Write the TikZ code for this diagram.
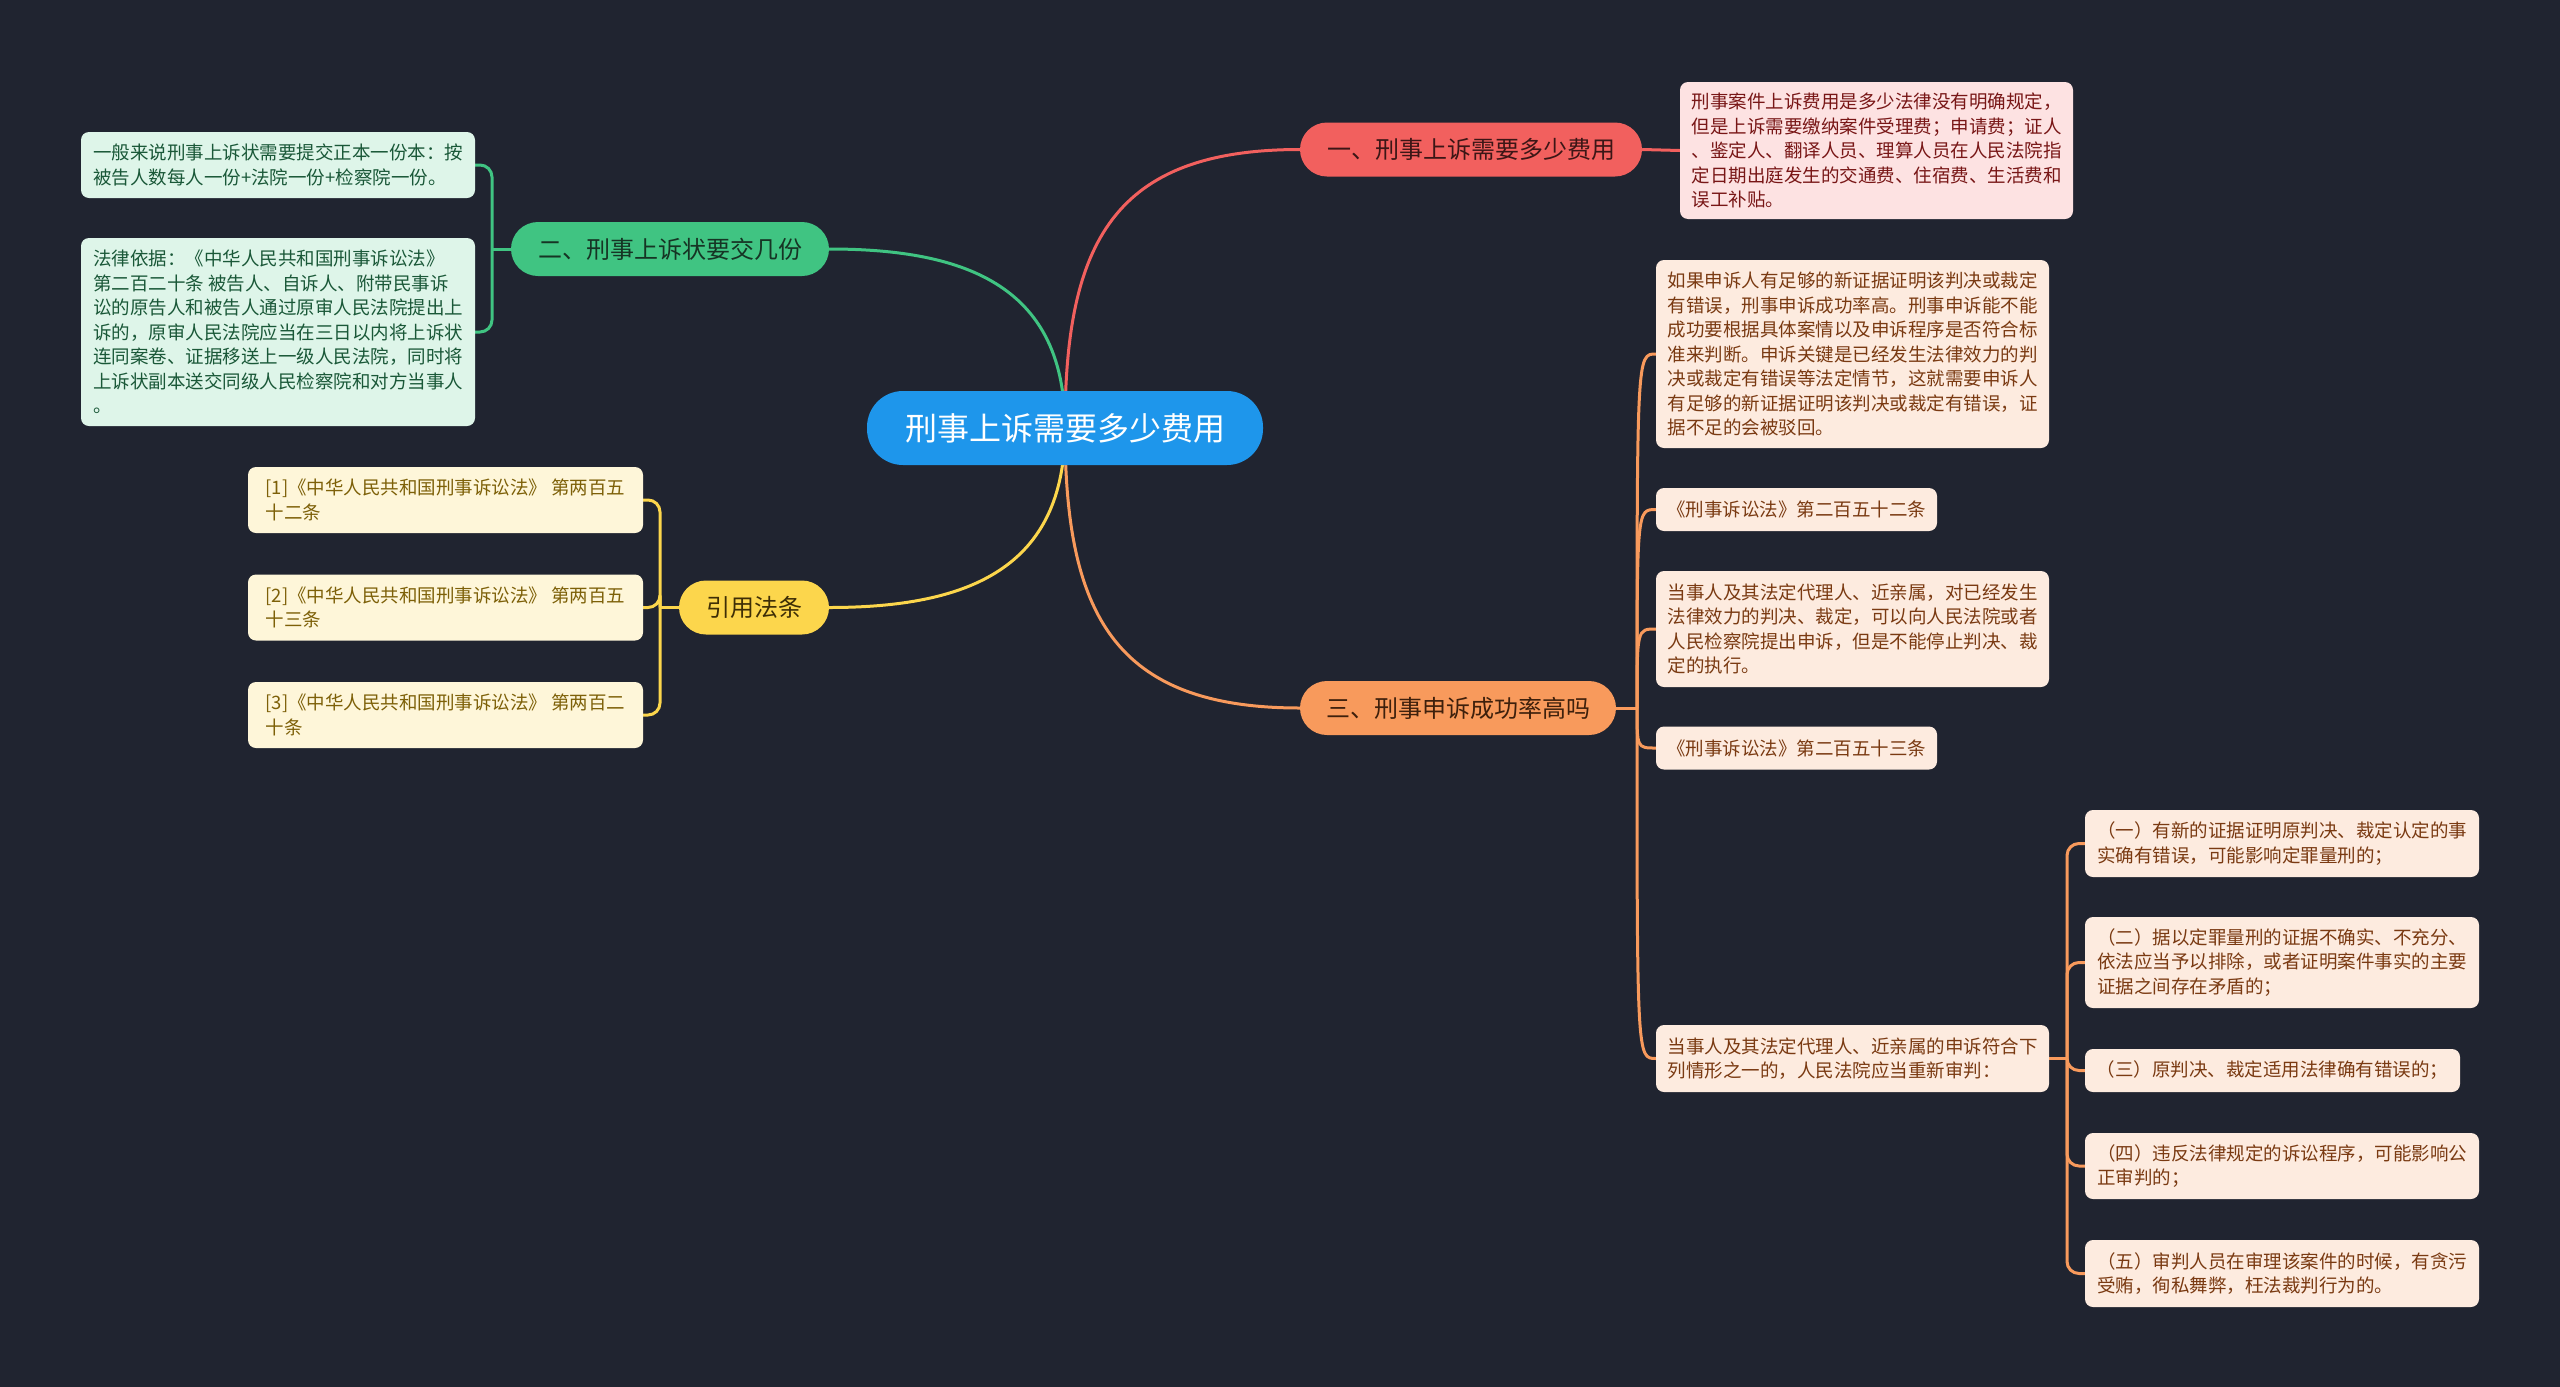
\documentclass[tikz,border=0pt]{standalone}
\usepackage{fontspec}
\setmainfont{Noto Sans CJK SC}
\pgfdeclarelayer{back}
\pgfdeclarelayer{links}
\pgfsetlayers{back,links,main}
\definecolor{bgc}{RGB}{32,36,48}
\definecolor{rootc}{RGB}{30,150,235}
\definecolor{redc}{RGB}{242,96,94}
\definecolor{redleaf}{RGB}{253,226,226}
\definecolor{redtxt}{RGB}{120,22,22}
\definecolor{redbt}{RGB}{60,22,22}
\definecolor{greenc}{RGB}{64,196,130}
\definecolor{greenleaf}{RGB}{222,245,233}
\definecolor{greentxt}{RGB}{26,88,56}
\definecolor{greenbt}{RGB}{22,52,36}
\definecolor{yellowc}{RGB}{252,214,76}
\definecolor{yellowleaf}{RGB}{254,246,217}
\definecolor{yellowtxt}{RGB}{125,96,8}
\definecolor{yellowbt}{RGB}{62,46,6}
\definecolor{orangec}{RGB}{248,154,92}
\definecolor{orangeleaf}{RGB}{253,235,223}
\definecolor{orangetxt}{RGB}{122,58,18}
\definecolor{orangebt}{RGB}{62,32,12}
\begin{document}
\begin{tikzpicture}[x=1pt,y=-1pt,
    rootbox/.style={fill=rootc, text=white, rounded corners=36pt, minimum width=396pt, minimum height=74pt, font=\fontsize{32}{38}\selectfont},
    branchbox/.style={rounded corners=27pt, minimum height=54pt, font=\fontsize{24}{29}\selectfont},
    leafbox/.style={rounded corners=8pt, align=left, inner xsep=10pt, inner ysep=8pt, font=\fontsize{18.5}{24.5}\selectfont},
    link/.style={line width=3pt}]
  \node[rootbox] (R) at (1065,428) {刑事上诉需要多少费用};
  % branch one
  \node[branchbox, fill=redc, text=redbt, minimum width=342pt] (B1) at (1471,149.5) {一、刑事上诉需要多少费用};
  \node[leafbox, fill=redleaf, text=redtxt, minimum width=393pt, minimum height=137pt] (N1) at (1876.5,150.5)
    {刑事案件上诉费用是多少法律没有明确规定，\\但是上诉需要缴纳案件受理费；申请费；证人\\、鉴定人、翻译人员、理算人员在人民法院指\\定日期出庭发生的交通费、住宿费、生活费和\\误工补贴。};
  % branch two
  \node[branchbox, fill=greenc, text=greenbt, minimum width=318pt] (B2) at (670,249) {二、刑事上诉状要交几份};
  \node[leafbox, fill=greenleaf, text=greentxt, minimum width=394pt, minimum height=66pt] (N21) at (278,165)
    {一般来说刑事上诉状需要提交正本一份本：按\\被告人数每人一份+法院一份+检察院一份。};
  \node[leafbox, fill=greenleaf, text=greentxt, minimum width=394pt, minimum height=188pt] (N22) at (278,332)
    {法律依据：《中华人民共和国刑事诉讼法》\\第二百二十条 被告人、自诉人、附带民事诉\\讼的原告人和被告人通过原审人民法院提出上\\诉的，原审人民法院应当在三日以内将上诉状\\连同案卷、证据移送上一级人民法院，同时将\\上诉状副本送交同级人民检察院和对方当事人\\。};
  % branch three
  \node[branchbox, fill=yellowc, text=yellowbt, minimum width=150pt] (B3) at (754,607.5) {引用法条};
  \node[leafbox, fill=yellowleaf, text=yellowtxt, minimum width=395pt, minimum height=66pt] (N31) at (445.5,500)
    {[1]《中华人民共和国刑事诉讼法》 第两百五\\十二条};
  \node[leafbox, fill=yellowleaf, text=yellowtxt, minimum width=395pt, minimum height=66pt] (N32) at (445.5,607.5)
    {[2]《中华人民共和国刑事诉讼法》 第两百五\\十三条};
  \node[leafbox, fill=yellowleaf, text=yellowtxt, minimum width=395pt, minimum height=66pt] (N33) at (445.5,715)
    {[3]《中华人民共和国刑事诉讼法》 第两百二\\十条};
  % branch four
  \node[branchbox, fill=orangec, text=orangebt, minimum width=316pt] (B4) at (1458,708) {三、刑事申诉成功率高吗};
  \node[leafbox, fill=orangeleaf, text=orangetxt, minimum width=393pt, minimum height=188pt] (N41) at (1852.5,354)
    {如果申诉人有足够的新证据证明该判决或裁定\\有错误，刑事申诉成功率高。刑事申诉能不能\\成功要根据具体案情以及申诉程序是否符合标\\准来判断。申诉关键是已经发生法律效力的判\\决或裁定有错误等法定情节，这就需要申诉人\\有足够的新证据证明该判决或裁定有错误，证\\据不足的会被驳回。};
  \node[leafbox, fill=orangeleaf, text=orangetxt, minimum width=281pt, minimum height=43pt] (N42) at (1796.5,509.5)
    {《刑事诉讼法》第二百五十二条};
  \node[leafbox, fill=orangeleaf, text=orangetxt, minimum width=393pt, minimum height=116pt] (N43) at (1852.5,629)
    {当事人及其法定代理人、近亲属，对已经发生\\法律效力的判决、裁定，可以向人民法院或者\\人民检察院提出申诉，但是不能停止判决、裁\\定的执行。};
  \node[leafbox, fill=orangeleaf, text=orangetxt, minimum width=281pt, minimum height=43pt] (N44) at (1796.5,748)
    {《刑事诉讼法》第二百五十三条};
  \node[leafbox, fill=orangeleaf, text=orangetxt, minimum width=393pt, minimum height=67pt] (N45) at (1852.5,1058.5)
    {当事人及其法定代理人、近亲属的申诉符合下\\列情形之一的，人民法院应当重新审判：};
  \node[leafbox, fill=orangeleaf, text=orangetxt, minimum width=394pt, minimum height=67pt] (S1) at (2282,843.5)
    {（一）有新的证据证明原判决、裁定认定的事\\实确有错误，可能影响定罪量刑的；};
  \node[leafbox, fill=orangeleaf, text=orangetxt, minimum width=394pt, minimum height=91pt] (S2) at (2282,962.5)
    {（二）据以定罪量刑的证据不确实、不充分、\\依法应当予以排除，或者证明案件事实的主要\\证据之间存在矛盾的；};
  \node[leafbox, fill=orangeleaf, text=orangetxt, minimum width=375pt, minimum height=43pt] (S3) at (2272.5,1070.5)
    {（三）原判决、裁定适用法律确有错误的；};
  \node[leafbox, fill=orangeleaf, text=orangetxt, minimum width=394pt, minimum height=66pt] (S4) at (2282,1166)
    {（四）违反法律规定的诉讼程序，可能影响公\\正审判的；};
  \node[leafbox, fill=orangeleaf, text=orangetxt, minimum width=394pt, minimum height=67pt] (S5) at (2282,1273.5)
    {（五）审判人员在审理该案件的时候，有贪污\\受贿，徇私舞弊，枉法裁判行为的。};
  \coordinate (J2) at (492,249);
  \coordinate (J3) at (660,607.5);
  \coordinate (J4) at (1637,708);
  \coordinate (J5) at (2067,1058.5);
  \begin{pgfonlayer}{back}
    \fill[bgc] (0,0) rectangle (2560,1387);
  \end{pgfonlayer}
  \begin{pgfonlayer}{links}
    % root to branches
    \draw[link, redc] (R.center) .. controls +(0,-186) and +(-186,0) .. (B1.west);
    \draw[link, greenc] (R.center) .. controls +(0,-140) and +(140,0) .. (B2.east);
    \draw[link, yellowc] (R.center) .. controls +(0,140) and +(140,0) .. (B3.east);
    \draw[link, orangec] (R.center) .. controls +(0,186) and +(-186,0) .. (B4.west);
    % branches to leaves
    \draw[link, redc] (B1.east) -- (N1.west);
    \draw[link, greenc] (B2.west) -- (J2);
    \foreach \n in {N21,N22} \draw[link, greenc, rounded corners=12pt] (J2) |- (\n.east);
    \draw[link, yellowc] (B3.west) -- (J3);
    \foreach \n in {N31,N32,N33} \draw[link, yellowc, rounded corners=12pt] (J3) |- (\n.east);
    \draw[link, orangec] (B4.east) -- (J4);
    \foreach \n in {N41,N42,N43,N44,N45} \draw[link, orangec] (J4) .. controls (J4 |- \n.west) .. (\n.west);
    \draw[link, orangec] (N45.east) -- (J5);
    \foreach \n in {S1,S2,S3,S4,S5} \draw[link, orangec, rounded corners=12pt] (J5) |- (\n.west);
  \end{pgfonlayer}
\end{tikzpicture}
\end{document}
